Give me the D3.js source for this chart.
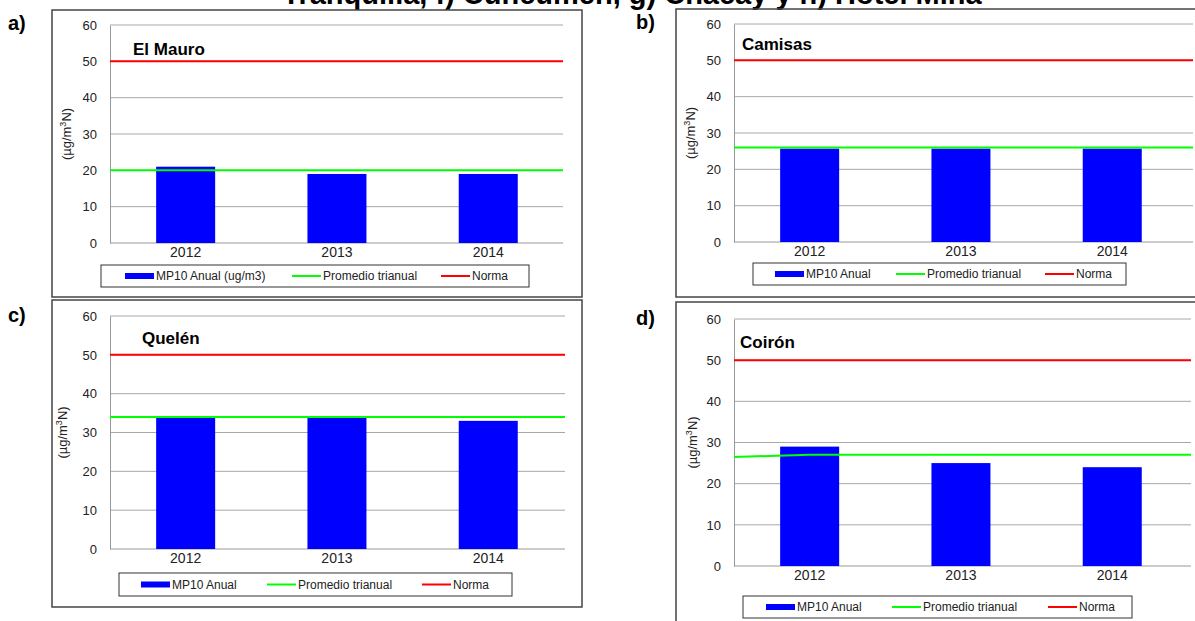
<!DOCTYPE html>
<html>
<head>
<meta charset="utf-8">
<script src="https://cdn.jsdelivr.net/npm/d3@7"></script>
<style>
  body { margin: 0; background: #fff; }
  svg { font-family: "Liberation Sans", Arial, sans-serif; }
</style>
</head>
<body>
<script>
const width = 1195;
const height = 621;

// data
const years = ['2012', '2013', '2014'];
const yTicks = [0, 10, 20, 30, 40, 50, 60];
const panelLabels = ['a)', 'b)', 'c)', 'd)'];
const stations = ['El Mauro', 'Camisas', 'Quelén', 'Coirón'];
const mp10Mauro = [21, 19, 19];
const mp10Camisas = [25.7, 25.7, 25.7];
const mp10Quelen = [34, 34, 33];
const mp10Coiron = [29, 25, 24];
// promedio trianual: value at left edge, then at each year
const promMauro = [20, 20, 20, 20];
const promCamisas = [26, 26, 26, 26];
const promQuelen = [34, 34, 34, 34];
const promCoiron = [26.5, 27, 27, 27];
const norma = 50;
const legendA = ['MP10 Anual (ug/m3)', 'Promedio trianual', 'Norma'];
const legendB = ['MP10 Anual', 'Promedio trianual', 'Norma'];
const pageTitle = 'Tranquilla, f) Cuncumén, g) Chacay y h) Hotel Mina';

const svg = d3.select('body').append('svg')
  .attr('width', width)
  .attr('height', height);

svg.append('text')
  .attr('x', 632).attr('y', 4)
  .attr('text-anchor', 'middle')
  .attr('font-size', 29).attr('font-weight', 'bold')
  .text(pageTitle);

// layout per panel
const panels = [
  {label: panelLabels[0], name: stations[0], bars: mp10Mauro, prom: promMauro, legend: legendA,
   frame: [52, 10, 530, 287], lab: [8, 30], x0: 110, x1: 563, y0: 243, y1: 25,
   title: [133, 55], ylab: 71, leg: [101, 265, 428, 22], legX: [125, 292, 441]},
  {label: panelLabels[1], name: stations[1], bars: mp10Camisas, prom: promCamisas, legend: legendB,
   frame: [676, 9, 540, 288], lab: [636, 29], x0: 734, x1: 1193, y0: 242, y1: 24,
   title: [742, 50], ylab: 695, leg: [753, 263, 373, 22], legX: [775, 896, 1045]},
  {label: panelLabels[2], name: stations[2], bars: mp10Quelen, prom: promQuelen, legend: legendB,
   frame: [52, 300, 530, 307], lab: [8, 322], x0: 110, x1: 565, y0: 549, y1: 316,
   title: [142, 344], ylab: 67, leg: [119, 573, 393, 23], legX: [141, 267, 422]},
  {label: panelLabels[3], name: stations[3], bars: mp10Coiron, prom: promCoiron, legend: legendB,
   frame: [676, 302, 540, 340], lab: [636, 325], x0: 734, x1: 1191, y0: 566, y1: 319,
   title: [740, 348], ylab: 697, leg: [743, 596, 389, 22], legX: [766, 892, 1048]}
];

panels.forEach(p => {
  const g = svg.append('g');

  g.append('rect')
    .attr('x', p.frame[0]).attr('y', p.frame[1])
    .attr('width', p.frame[2]).attr('height', p.frame[3])
    .attr('fill', 'none').attr('stroke', '#444').attr('stroke-width', 1.5);

  svg.append('text')
    .attr('x', p.lab[0]).attr('y', p.lab[1])
    .attr('font-size', 20).attr('font-weight', 'bold')
    .text(p.label);

  const x = d3.scaleBand().domain(years).range([p.x0, p.x0 + 3 * 151.3]).paddingInner(0.61).paddingOuter(0.305);
  const y = d3.scaleLinear().domain([0, 60]).range([p.y0, p.y1]);

  // grid
  g.selectAll('.grid').data(yTicks.slice(1)).enter().append('line')
    .attr('x1', p.x0).attr('x2', p.x1)
    .attr('y1', d => y(d)).attr('y2', d => y(d))
    .attr('stroke', '#a8a8a8').attr('stroke-width', 1);

  // axes
  const yAxis = g.append('g')
    .attr('transform', `translate(${p.x0},0)`)
    .call(d3.axisLeft(y).tickValues(yTicks).tickSize(0).tickPadding(13));
  yAxis.select('.domain').attr('stroke', '#999');
  yAxis.selectAll('text').attr('font-size', 13).attr('fill', '#222')
    .attr('font-family', '"Liberation Sans", Arial, sans-serif');

  g.append('line')
    .attr('x1', p.x0).attr('x2', p.x1)
    .attr('y1', p.y0).attr('y2', p.y0)
    .attr('stroke', '#999');

  const xAxis = g.append('g')
    .attr('transform', `translate(0,${p.y0})`)
    .call(d3.axisBottom(x).tickSize(0).tickPadding(4));
  xAxis.select('.domain').remove();
  xAxis.selectAll('text').attr('font-size', 14).attr('fill', '#222')
    .attr('font-family', '"Liberation Sans", Arial, sans-serif');

  // bars
  g.selectAll('.bar').data(p.bars).enter().append('rect')
    .attr('x', (d, i) => x(years[i]))
    .attr('width', x.bandwidth())
    .attr('y', d => y(d))
    .attr('height', d => p.y0 - y(d))
    .attr('fill', '#0000ff');

  // promedio line: left edge, then year centres, then right edge
  const px = [p.x0].concat(years.map(yr => x(yr) + x.bandwidth() / 2));
  const pts = p.prom.map((v, i) => [px[i], y(v)]);
  pts.push([p.x1, y(p.prom[p.prom.length - 1])]);
  g.append('path')
    .attr('d', d3.line()(pts))
    .attr('fill', 'none').attr('stroke', '#00ff00').attr('stroke-width', 2);

  g.append('line')
    .attr('x1', p.x0).attr('x2', p.x1)
    .attr('y1', y(norma)).attr('y2', y(norma))
    .attr('stroke', '#ff0000').attr('stroke-width', 2);

  // station name
  g.append('text')
    .attr('x', p.title[0]).attr('y', p.title[1])
    .attr('font-size', 17).attr('font-weight', 'bold')
    .text(p.name);

  // y label
  g.append('text')
    .attr('transform', `translate(${p.ylab},${(p.y0 + p.y1) / 2}) rotate(-90)`)
    .attr('text-anchor', 'middle')
    .attr('font-size', 13).attr('fill', '#222')
    .html('(µg/m<tspan baseline-shift="super" font-size="9">3</tspan>N)');

  // legend
  const lg = g.append('g');
  lg.append('rect')
    .attr('x', p.leg[0]).attr('y', p.leg[1])
    .attr('width', p.leg[2]).attr('height', p.leg[3])
    .attr('fill', '#fff').attr('stroke', '#333').attr('stroke-width', 1);
  const cy = p.leg[1] + p.leg[3] / 2;
  const colors = ['#0000ff', '#00ff00', '#ff0000'];
  p.legend.forEach((t, i) => {
    if (i === 0) {
      lg.append('rect').attr('x', p.legX[i]).attr('y', cy - 3)
        .attr('width', 29).attr('height', 6).attr('fill', colors[i]);
    } else {
      lg.append('line').attr('x1', p.legX[i]).attr('x2', p.legX[i] + 29)
        .attr('y1', cy).attr('y2', cy)
        .attr('stroke', colors[i]).attr('stroke-width', 2);
    }
    lg.append('text')
      .attr('x', p.legX[i] + 31).attr('y', cy + 4)
      .attr('font-size', 12).attr('fill', '#222')
      .text(t);
  });
});
</script>
</body>
</html>
